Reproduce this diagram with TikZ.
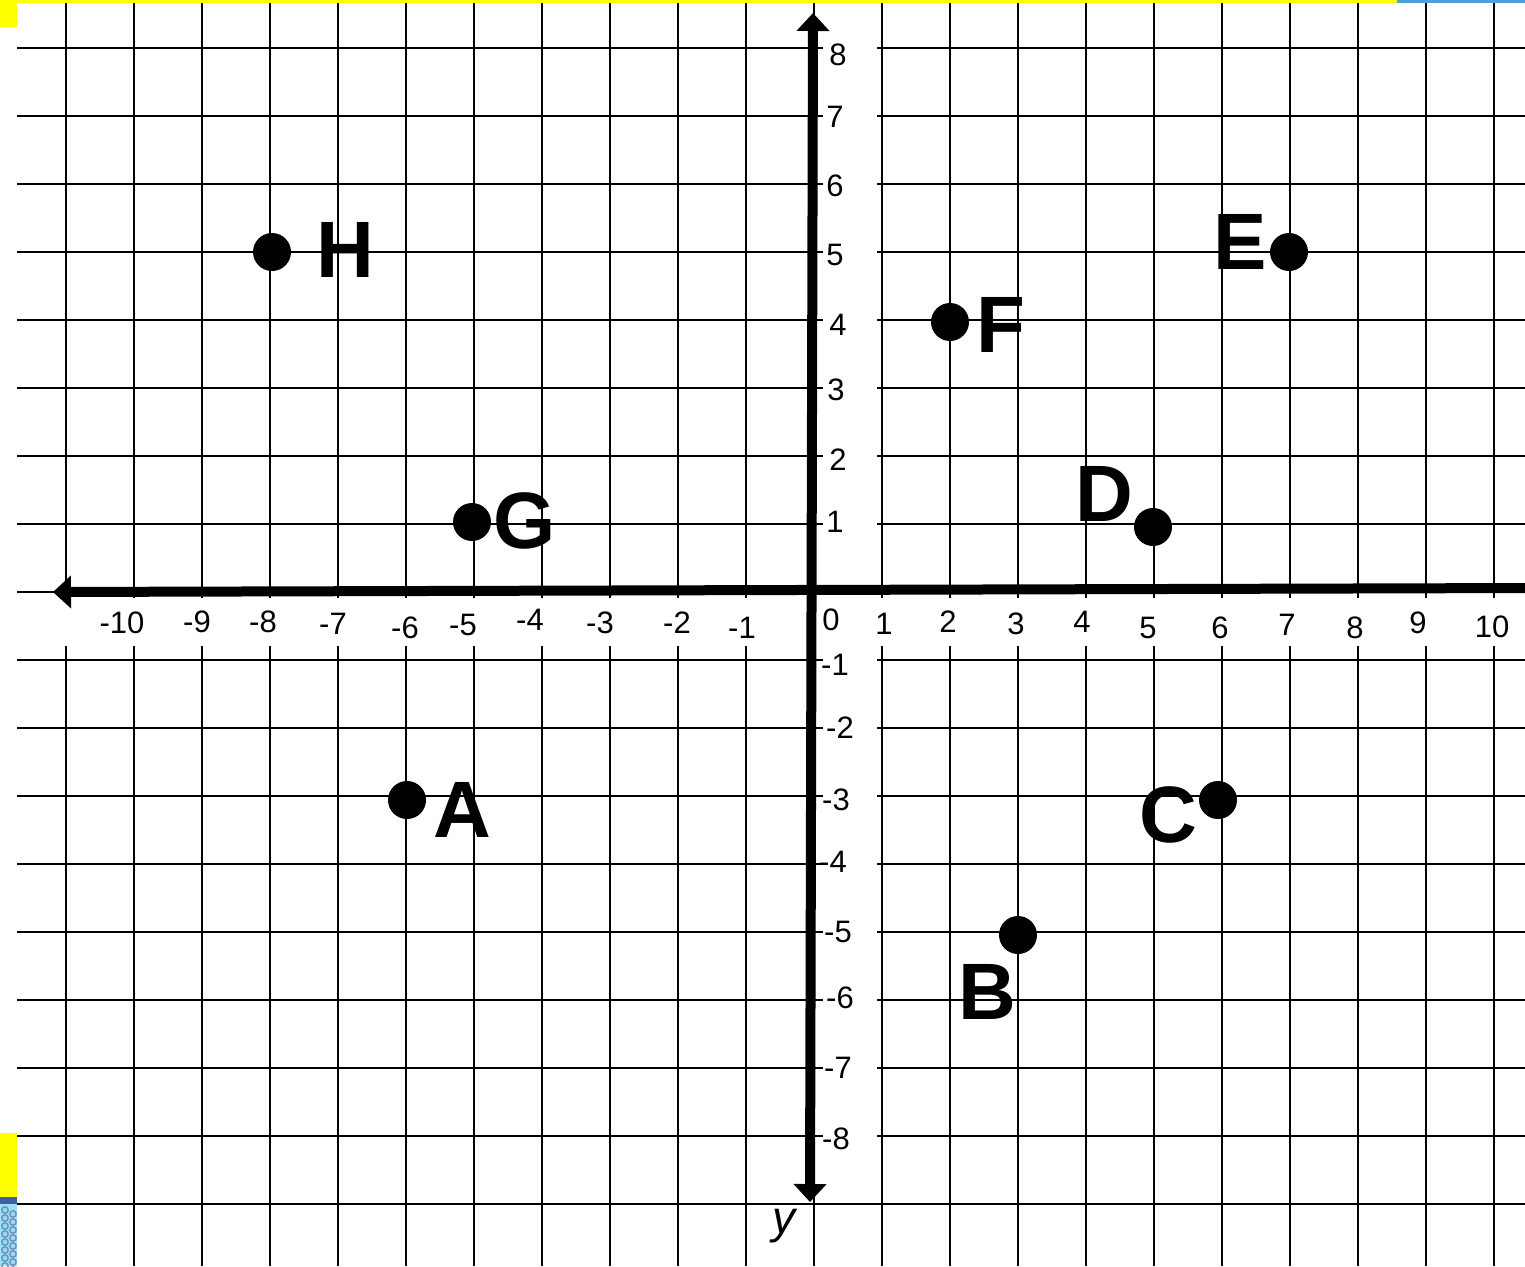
\documentclass[tikz,border=0pt]{standalone}
\usepackage{fontspec}
\setmainfont{Liberation Sans}
\usetikzlibrary{arrows.meta}
\definecolor{edgeyellow}{RGB}{255,255,0}
\definecolor{edgeblue}{RGB}{60,95,160}
\definecolor{edgecyan}{RGB}{150,225,245}
\definecolor{stripblue}{RGB}{80,160,210}
\begin{document}
\begin{tikzpicture}[x=1pt,y=-1pt,
  gridline/.style={line width=2.2pt, black},
  axisline/.style={line width=10pt, black},
  tick/.style={font=\fontsize{31}{31}\selectfont, inner sep=0pt},
  ptlabel/.style={font=\fontsize{80}{80}\selectfont\bfseries, inner sep=0pt},
  dot/.style={circle, fill=black, minimum size=38pt, inner sep=0pt},
  axtip/.tip={Triangle[length=18pt,width=32pt]}]
\useasboundingbox (0,0) rectangle (1525,1266);
\clip (0,0) rectangle (1525,1266);
\fill[white] (0,0) rectangle (1525,1266);
% grid
\foreach \k in {0,...,21} \draw[gridline] ({66+68*\k},0) -- ({66+68*\k},1266);
\foreach \k in {0,...,17} \draw[gridline] (17,{48+68*\k}) -- (1525,{48+68*\k});
% label bands
\fill[white] (17,598) rectangle (1525,646);
\fill[white] (823,30) rectangle (877,1166);
% edge decorations
\fill[edgeyellow] (0,0) rectangle (1397,2.5);
\fill[stripblue] (1397,0) rectangle (1525,3);
\fill[edgeyellow] (0,0) rectangle (17,27);
\fill[edgeyellow] (0,1133) rectangle (17,1197);
\fill[edgeblue] (0,1197) rectangle (17,1204);
\fill[edgecyan] (0,1204) rectangle (17,1266);
\foreach \j in {0,...,7} {
  \draw[edgeblue!70, line width=1.5pt] (5,{1210+8*\j}) circle (3.2pt);
  \draw[edgeblue!70, line width=1.5pt] (13,{1214+8*\j}) circle (3.2pt);
}
% x tick labels
\foreach \t/\px/\py [count=\i] in {-10/122/623,-9/197/622,-8/263/622,-7/333/624,-6/405/628,-5/463/625,-4/530/620,-3/600/623,-2/677/623,-1/742/628,0/831/620,1/884/624,2/948/622,3/1016/624,4/1082/622,5/1148/628,6/1220/628,7/1287/625,8/1355/628,9/1418/623,10/1492/627}
  \node[tick] (xt\i) at (\px,\py) {\t};
% y tick labels
\foreach \t/\px/\py [count=\i] in {8/838/55,7/835/117,6/835/186,5/835/255,4/838/325,3/836/390,2/838/460,1/835/522,-1/835/665,-2/840/728,-3/836/800,-4/833/862,-5/838/932,-6/840/998,-7/838/1068,-8/836/1139}
  \node[tick] (yt\i) at (\px,\py) {\t};
% axes
\coordinate (ybot) at (810,1202);
\coordinate (ytop) at (813,13);
\coordinate (xleft) at (53,592);
\coordinate (xright) at (1535,588);
\draw[axisline, axtip-axtip] (ybot) -- (ytop);
\draw[axisline, axtip-] (xleft) -- (xright);
\node[font=\fontsize{46}{46}\selectfont\itshape, inner sep=0pt] (ylab) at (784,1226) {y};
% points
\node[dot] (pH) at (272,252) {};
\node[dot] (pE) at (1289,252) {};
\node[dot] (pF) at (950,322) {};
\node[dot] (pD) at (1153,527) {};
\node[dot] (pG) at (472,522) {};
\node[dot] (pA) at (407,800) {};
\node[dot] (pC) at (1218,800) {};
\node[dot] (pB) at (1018,935) {};
\node[ptlabel] (lH) at (345,250) {H};
\node[ptlabel] (lE) at (1240,242) {E};
\node[ptlabel] (lF) at (1001,325) {F};
\node[ptlabel] (lD) at (1104,494) {D};
\node[ptlabel] (lG) at (525,521) {G};
\node[ptlabel] (lA) at (462,810) {A};
\node[ptlabel] (lC) at (1168,815) {C};
\node[ptlabel] (lB) at (987,992) {B};
\end{tikzpicture}
\end{document}
